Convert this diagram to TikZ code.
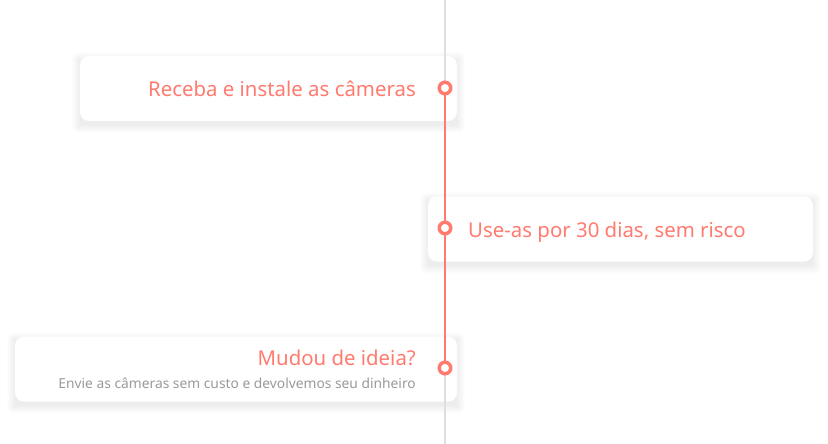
\documentclass[tikz,border=0pt]{standalone}
\usepackage{fontspec}
\setmainfont{Noto Sans}
\usetikzlibrary{positioning,backgrounds}
\definecolor{coral}{HTML}{FF7B6F}
\definecolor{railgray}{HTML}{DEDEDE}
\definecolor{notegray}{HTML}{9A9A9A}

\tikzset{
	card/.style={fill=white,rounded corners=9pt,inner sep=0pt,minimum height=65pt},
	dot/.style={circle,draw=coral,line width=3.5pt,fill=white,minimum size=11.5pt,inner sep=0pt},
	title/.style={text=coral,inner sep=0pt,font=\fontsize{20.4}{24}\selectfont},
	note/.style={text=notegray,inner sep=0pt,font=\fontsize{13.8}{16}\selectfont},
	rail/.style={line width=2pt}
}

\begin{document}
\begin{tikzpicture}[x=1pt,y=-1pt]
	\useasboundingbox (0,0) rectangle (828,444);
	% cards
	\node[card,minimum width=377pt] (card1) at (268.5,88.5) {};
	\node[card,minimum width=385pt] (card2) at (620.5,229) {};
	\node[card,minimum width=442pt] (card3) at (236,369) {};
	% soft shadows
	\begin{scope}[on background layer]
	\fill[white] (0,0) rectangle (828,444);
	\foreach \c in {card1,card2,card3}
	\foreach \s [evaluate=\s as \r using 9+\s] in {0,...,8}
	\fill[black,opacity=0.008,rounded corners=\r pt]
		([shift={(-\s,-\s+4)}]\c.north west) rectangle ([shift={(\s,\s+4)}]\c.south east);
	\end{scope}
	% rail
	\coordinate (top) at (445,0);
	\coordinate (bottom) at (445,444);
	\coordinate (d1) at (445,88);
	\coordinate (d2) at (445,228);
	\coordinate (d3) at (445,368);
	\draw[rail,railgray] (top) -- (d1);
	\draw[rail,railgray] (d3) -- (bottom);
	\draw[rail,coral] (d1) -- (d3);
	\node[dot] (dot1) at (d1) {};
	\node[dot] (dot2) at (d2) {};
	\node[dot] (dot3) at (d3) {};
	% labels
	\node[title,anchor=base east] (step1) at (416,97) {Receba e instale as câmeras};
	\node[title,anchor=base west] (step2) at (468,237) {Use-as por 30 dias, sem risco};
	\node[title,anchor=base east] (step3) at (416,365) {Mudou de ideia?};
	\node[note,anchor=base east] (step3note) at (416,388) {Envie as câmeras sem custo e devolvemos seu dinheiro};
\end{tikzpicture}
\end{document}
